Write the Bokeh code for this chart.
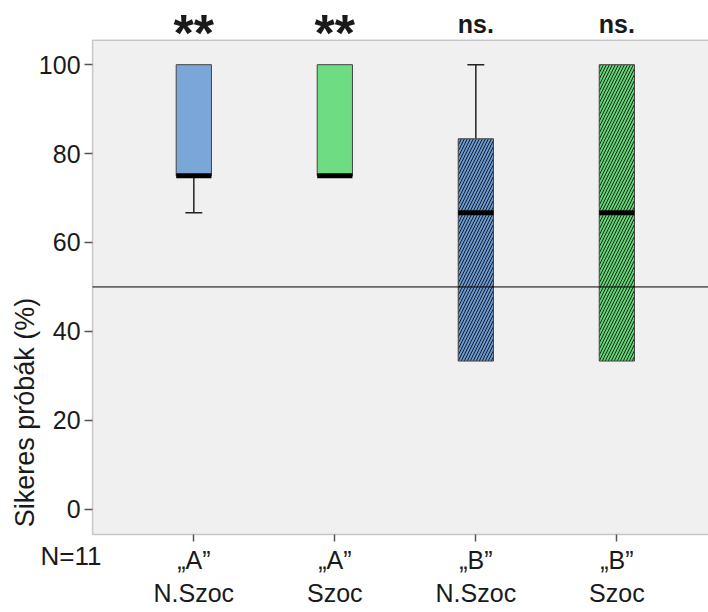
import math
from bokeh.plotting import figure
from bokeh.models import Label, FixedTicker, ColumnDataSource, Range1d, BoxAnnotation
from bokeh.embed import file_html
from bokeh.resources import INLINE

# ---- data ----
categories = ["\u201eA\u201d\nN.Szoc", "\u201eA\u201d\nSzoc", "\u201eB\u201d\nN.Szoc", "\u201eB\u201d\nSzoc"]
positions = [1, 2, 3, 4]
q1 = [75.0, 75.0, 33.33, 33.33]
median = [75.0, 75.0, 66.67, 66.67]
q3 = [100.0, 100.0, 83.33, 100.0]
whisker_low = [66.67, 75.0, 33.33, 33.33]
whisker_high = [100.0, 100.0, 100.0, 100.0]
significance = ["**", "**", "ns.", "ns."]
n_label = "N=11"
y_title = "Sikeres próbák (%)"
reference_level = 50
y_ticks = [0, 20, 40, 60, 80, 100]

# ---- layout (data-space extents of the visible plot panel) ----
panel_left, panel_right = 0.282, 5.5
panel_bottom, panel_top = -5.7, 105.5

# ---- styles ----
fill_colors = ["#7aa7d7", "#6edc82", "#6898cf", "#60d274"]
hatch_patterns = [" ", " ", "/", "/"]
sig_sizes = ["52px", "52px", "25px", "25px"]
sig_y = [107.1, 107.1, 109.25, 109.25]
FONT = "Liberation Sans"
TXT = "#1a1a1a"
EDGE = "#555555"

p = figure(width=708, height=612, output_backend="svg", toolbar_location=None,
           x_range=Range1d(-0.371, 4.65), y_range=Range1d(-23.24, 114.44),
           min_border_left=0, min_border_right=0, min_border_top=0, min_border_bottom=0)
p.background_fill_color = "white"
p.border_fill_color = "white"
p.outline_line_color = None
p.grid.visible = False

p.add_layout(BoxAnnotation(left=panel_left, right=panel_right, bottom=panel_bottom, top=panel_top,
                           fill_color="#f0f0f0", fill_alpha=1, line_color=EDGE, line_width=1.5,
                           level="underlay"))

box_w = 0.25
cap_w = 0.12

# whiskers (only where they extend beyond the box)
wx, wy0, wy1 = [], [], []
for x, lo, hi, a, b in zip(positions, whisker_low, whisker_high, q1, q3):
    if lo < a:
        wx.append(x); wy0.append(a); wy1.append(lo)
    if hi > b:
        wx.append(x); wy0.append(b); wy1.append(hi)
wsrc = ColumnDataSource(dict(x=wx, y0=wy0, y1=wy1,
                             cl=[x - cap_w / 2 for x in wx], cr=[x + cap_w / 2 for x in wx]))
p.segment(x0="x", y0="y0", x1="x", y1="y1", source=wsrc, line_color="#222222", line_width=1.5)
p.segment(x0="cl", y0="y1", x1="cr", y1="y1", source=wsrc, line_color="#222222", line_width=1.5)

bsrc = ColumnDataSource(dict(x=positions, bottom=q1, top=q3, fill=fill_colors, hatch=hatch_patterns,
                             med=median))
p.vbar(x="x", bottom="bottom", top="top", width=box_w, source=bsrc,
       fill_color="fill", line_color="#444444", line_width=1,
       hatch_pattern="hatch", hatch_color="black", hatch_scale=6, hatch_weight=1.0, hatch_alpha=0.8)
p.rect(x="x", y="med", width=box_w, height=5, height_units="screen", source=bsrc,
       fill_color="black", line_color=None)

# reference line at 50 %
p.segment(x0=[panel_left], y0=[reference_level], x1=[panel_right], y1=[reference_level],
          line_color="black", line_width=1)

# axes (fixed to the panel edges)
p.yaxis.fixed_location = panel_left
p.xaxis.fixed_location = panel_bottom
p.yaxis.bounds = (panel_bottom, panel_top)
p.xaxis.bounds = (panel_left, panel_right)
p.yaxis.ticker = FixedTicker(ticks=y_ticks)
p.xaxis.ticker = FixedTicker(ticks=positions)
p.xaxis.major_label_overrides = {pos: lab for pos, lab in zip(positions, categories)}
for ax in (p.xaxis[0], p.yaxis[0]):
    ax.axis_line_color = None
    ax.major_tick_line_color = EDGE
    ax.major_tick_line_width = 1.5
    ax.major_tick_in = 0
    ax.minor_tick_line_color = None
    ax.major_label_text_font = FONT
    ax.major_label_text_color = TXT
p.yaxis.major_label_text_font_size = "25px"
p.xaxis.major_label_text_font_size = "25px"
p.yaxis.major_tick_out = 8
p.yaxis.major_label_standoff = 4
p.xaxis.major_tick_out = 7
p.xaxis.major_label_standoff = 4

# significance marks above the panel
for x, s, fs, yy in zip(positions, significance, sig_sizes, sig_y):
    p.add_layout(Label(x=x, y=yy, text=s, text_align="center",
                       text_baseline="alphabetic", text_font=FONT, text_font_size=fs,
                       text_font_style="bold", text_color=TXT))

# N label
p.add_layout(Label(x=-0.087, y=-10.5, text=n_label,
                   text_align="left", text_baseline="alphabetic", text_font=FONT,
                   text_font_size="26px", text_color=TXT))

# y-axis title
p.add_layout(Label(x=-0.2, y=21.75, text=y_title,
                   angle=math.pi / 2, text_align="center", text_baseline="middle",
                   text_font=FONT, text_font_size="27px", text_color=TXT))

open("out.html", "w").write(file_html(p, INLINE))
